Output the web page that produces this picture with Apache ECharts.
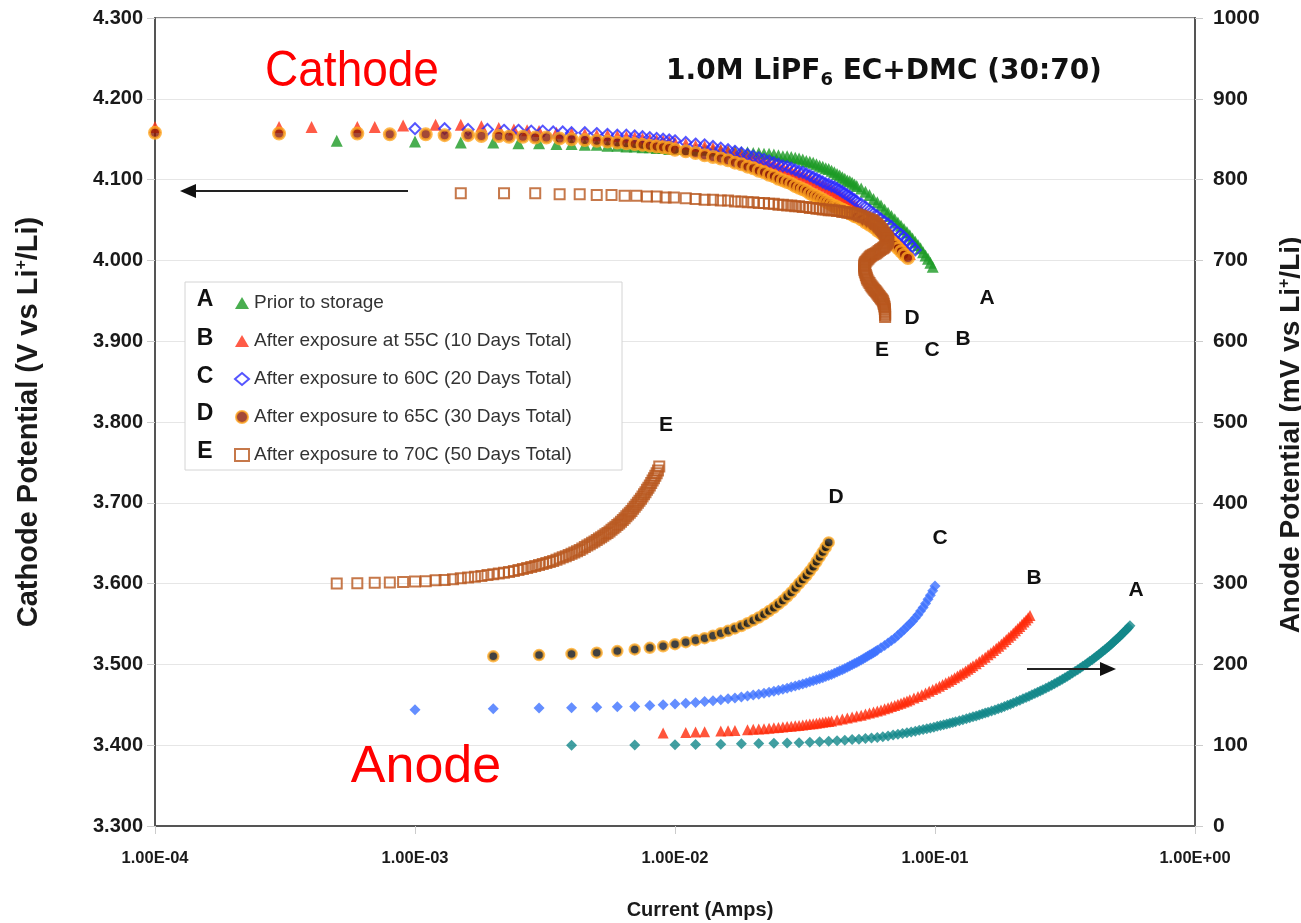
<!DOCTYPE html>
<html><head><meta charset="utf-8">
<script src="https://cdn.jsdelivr.net/npm/echarts/dist/echarts.min.js"></script>
<style>html,body{margin:0;padding:0;background:#fff}#c{width:1301px;height:923px}</style>
</head><body><div id="c"></div>
<script>
// ---- data: [current (mA), potential] ----
const seriesNames = ['Prior to storage','After exposure at 55C (10 Days Total)','After exposure to 60C (20 Days Total)','After exposure to 65C (30 Days Total)','After exposure to 70C (50 Days Total)'];
const seriesLetters = ['A','B','C','D','E'];
const xTickLabels = ['1.00E-04','1.00E-03','1.00E-02','1.00E-01','1.00E+00'];

// Cathode potential (V vs Li+/Li), left axis
const cathodeA = [[0.5,4.148],[1,4.147],[1.5,4.146],[2,4.146],[2.5,4.145],[3,4.145],[3.5,4.144],[4,4.144],[4.5,4.143],[5,4.143],[5.5,4.142],[6,4.142],[6.5,4.141],[7,4.141],[7.5,4.140],[8,4.140],[8.5,4.139],[9,4.139],[9.5,4.138],[10,4.138],[11,4.138],[12,4.137],[13,4.137],[14,4.136],[15,4.136],[16,4.135],[17,4.135],[18,4.134],[19,4.134],[20,4.133],[21,4.133],[22,4.132],[23,4.132],[24,4.131],[25,4.130],[26,4.129],[27,4.129],[28,4.128],[29,4.127],[30,4.126],[31,4.125],[32,4.123],[33,4.122],[34,4.121],[35,4.119],[36,4.117],[37,4.116],[38,4.114],[39,4.113],[40,4.111],[41,4.109],[42,4.107],[43,4.105],[44,4.103],[45,4.101],[46,4.099],[47,4.098],[48,4.096],[49,4.094],[50,4.092],[52,4.089],[54,4.085],[56,4.081],[58,4.076],[60,4.072],[62,4.068],[64,4.063],[66,4.059],[68,4.055],[70,4.051],[72,4.047],[74,4.043],[76,4.039],[78,4.035],[80,4.031],[82,4.027],[84,4.023],[86,4.019],[88,4.015],[90,4.010],[92,4.006],[94,4.002],[96,3.997],[98,3.992]];
const cathodeB = [[0.1,4.165],[0.3,4.165],[0.4,4.165],[0.6,4.165],[0.7,4.165],[0.9,4.167],[1.2,4.168],[1.5,4.168],[1.8,4.166],[2.1,4.164],[2.4,4.162],[2.7,4.161],[3,4.160],[3.5,4.158],[4,4.157],[4.5,4.156],[5,4.155],[5.5,4.155],[6,4.154],[6.5,4.153],[7,4.152],[7.5,4.151],[8,4.150],[8.5,4.149],[9,4.148],[9.5,4.147],[10,4.146],[11,4.144],[12,4.142],[13,4.141],[14,4.139],[15,4.137],[16,4.135],[17,4.133],[18,4.131],[19,4.129],[20,4.127],[21,4.125],[22,4.123],[23,4.121],[24,4.119],[25,4.117],[26,4.115],[27,4.113],[28,4.111],[29,4.109],[30,4.107],[31,4.105],[32,4.103],[33,4.101],[34,4.099],[35,4.097],[36,4.095],[37,4.093],[38,4.091],[39,4.089],[40,4.087],[41,4.085],[42,4.083],[43,4.081],[44,4.078],[45,4.076],[46,4.074],[47,4.072],[48,4.070],[49,4.068],[50,4.066],[52,4.062],[54,4.058],[56,4.054],[58,4.050],[60,4.046],[62,4.042],[64,4.038],[66,4.034],[68,4.031],[70,4.027],[72,4.023],[74,4.020],[76,4.016],[78,4.012],[80,4.008]];
const cathodeC = [[1,4.163],[1.3,4.163],[1.6,4.162],[1.9,4.162],[2.2,4.161],[2.5,4.161],[2.8,4.160],[3.1,4.160],[3.4,4.159],[3.7,4.159],[4,4.158],[4.5,4.158],[5,4.157],[5.5,4.156],[6,4.155],[6.5,4.155],[7,4.154],[7.5,4.153],[8,4.152],[8.5,4.151],[9,4.150],[9.5,4.149],[10,4.148],[11,4.146],[12,4.144],[13,4.143],[14,4.141],[15,4.139],[16,4.137],[17,4.135],[18,4.133],[19,4.131],[20,4.129],[21,4.127],[22,4.125],[23,4.123],[24,4.121],[25,4.119],[26,4.117],[27,4.116],[28,4.114],[29,4.112],[30,4.110],[31,4.109],[32,4.107],[33,4.105],[34,4.103],[35,4.101],[36,4.099],[37,4.097],[38,4.095],[39,4.094],[40,4.092],[41,4.091],[42,4.089],[43,4.087],[44,4.085],[45,4.083],[46,4.081],[47,4.079],[48,4.077],[49,4.075],[50,4.073],[52,4.070],[54,4.066],[56,4.062],[58,4.058],[60,4.055],[62,4.051],[64,4.048],[66,4.045],[68,4.042],[70,4.038],[72,4.035],[74,4.032],[76,4.029],[78,4.025],[80,4.021],[82,4.017],[84,4.013]];
const cathodeD = [[0.1,4.158],[0.3,4.157],[0.6,4.157],[0.8,4.156],[1.1,4.156],[1.3,4.155],[1.6,4.155],[1.8,4.154],[2.1,4.154],[2.3,4.153],[2.6,4.153],[2.9,4.152],[3.2,4.152],[3.6,4.151],[4,4.150],[4.5,4.149],[5,4.148],[5.5,4.147],[6,4.146],[6.5,4.145],[7,4.144],[7.5,4.143],[8,4.142],[8.5,4.141],[9,4.140],[9.5,4.139],[10,4.137],[11,4.135],[12,4.133],[13,4.130],[14,4.128],[15,4.126],[16,4.124],[17,4.121],[18,4.119],[19,4.116],[20,4.114],[21,4.111],[22,4.109],[23,4.106],[24,4.104],[25,4.101],[26,4.099],[27,4.097],[28,4.095],[29,4.092],[30,4.090],[31,4.088],[32,4.086],[33,4.083],[34,4.081],[35,4.079],[36,4.077],[37,4.075],[38,4.073],[39,4.071],[40,4.069],[41,4.067],[42,4.066],[43,4.064],[44,4.063],[45,4.061],[46,4.060],[47,4.058],[48,4.057],[49,4.055],[50,4.054],[52,4.051],[54,4.047],[56,4.044],[58,4.041],[60,4.037],[62,4.034],[64,4.030],[66,4.027],[68,4.023],[70,4.019],[72,4.015],[74,4.011],[76,4.007],[78.7,4.003]];
const cathodeE = [[1.5,4.083],[2.2,4.083],[2.9,4.083],[3.6,4.082],[4.3,4.082],[5.0,4.081],[5.7,4.081],[6.4,4.080],[7.1,4.080],[7.8,4.079],[8.5,4.079],[9.2,4.078],[9.9,4.078],[11,4.077],[12,4.076],[13,4.075],[14,4.075],[15,4.074],[16,4.074],[17,4.073],[18,4.073],[19,4.072],[20,4.072],[21,4.071],[22,4.071],[23,4.070],[24,4.070],[25,4.069],[26,4.069],[27,4.068],[28,4.068],[29,4.067],[30,4.067],[31,4.066],[32,4.066],[33,4.065],[34,4.065],[35,4.064],[36,4.064],[37,4.063],[38,4.063],[39,4.062],[40,4.062],[41,4.062],[42,4.061],[43,4.061],[44,4.060],[45,4.060],[46,4.059],[47,4.059],[48,4.058],[49,4.058],[50,4.057],[51,4.056],[52,4.055],[53,4.054],[54,4.053],[55,4.052],[56,4.051],[57,4.050],[57.5,4.049],[58,4.048],[58.5,4.047],[59,4.046],[59.5,4.045],[60,4.044],[60.5,4.043],[61,4.042],[61.5,4.0405],[62,4.039],[62.5,4.0375],[63,4.036],[63.5,4.0345],[64,4.033],[64.5,4.0315],[65,4.030],[65.5,4.0285],[66,4.027],[66.2,4.025],[66,4.023],[65.5,4.0215],[65,4.020],[64.5,4.0185],[64,4.017],[63.5,4.016],[63,4.015],[62.2,4.014],[61.5,4.013],[60.7,4.0115],[60,4.010],[59.2,4.009],[58.5,4.008],[57.7,4.007],[57,4.006],[56.5,4.005],[56,4.004],[55.5,4.0025],[55,4.001],[54.5,3.9995],[54,3.998],[53.7,3.9965],[53.5,3.995],[53.5,3.9935],[53.5,3.992],[53.5,3.990],[53.5,3.988],[53.7,3.986],[54,3.984],[54.2,3.982],[54.5,3.980],[54.7,3.978],[55,3.976],[55.5,3.974],[56,3.972],[56.5,3.970],[57,3.968],[57.5,3.9665],[58,3.965],[58.5,3.9635],[59,3.962],[59.5,3.9605],[60,3.959],[60.5,3.9575],[61,3.956],[61.5,3.9545],[62,3.953],[62.5,3.9515],[63,3.950],[63.3,3.948],[63.5,3.946],[63.8,3.944],[64,3.942],[64.1,3.940],[64.2,3.938],[64.2,3.936],[64.3,3.934],[64.3,3.932],[64.3,3.930]];

// Anode potential (mV vs Li+/Li), right axis
const anodeA = [[4,100],[7,100.3],[10,100.7],[12,101],[15,101.3],[18,101.7],[21,102],[24,102.4],[27,102.7],[30,103],[33,103.6],[36,104.2],[39,104.9],[42,105.5],[45,106.2],[48,106.9],[51,107.5],[54,108.2],[57,108.8],[60,109.5],[63,110.5],[66,111.5],[69,112.5],[72,113.5],[75,114.5],[78,115.4],[81,116.4],[84,117.4],[87,118.4],[90,119.4],[93,120.4],[96,121.4],[99,122.3],[102,123.3],[105,124.3],[108,125.2],[111,126.2],[114,127.2],[117,128.1],[120,129.1],[124,130.4],[128,131.6],[132,132.8],[136,133.9],[140,135.1],[144,136.2],[148,137.4],[152,138.5],[156,139.7],[160,140.8],[165,142.3],[170,143.7],[175,145.1],[180,146.5],[185,148],[190,149.4],[195,150.8],[200,152.3],[206,154],[212,155.7],[218,157.4],[224,159.1],[230,160.7],[236,162.3],[242,163.9],[248,165.5],[254,167.1],[260,168.7],[267,170.5],[274,172.4],[281,174.2],[288,176.1],[295,178],[302,179.8],[309,181.7],[316,183.5],[323,185.4],[330,187.2],[338,189.3],[346,191.4],[354,193.5],[362,195.6],[370,197.6],[378,199.7],[386,201.8],[394,203.8],[402,205.9],[410,207.9],[418,210],[426,212],[434,214.1],[442,216.2],[450,218.2],[458,220.3],[466,222.3],[474,224.4],[482,226.5],[490,228.6],[498,230.7],[506,232.8],[514,234.9],[522,237],[530,239.1],[538,241.2],[546,243.3],[554,245.5],[562,247.7]];
const anodeB = [[9,115],[11,115.8],[12,116.3],[13,116.7],[15,117.5],[16,117.9],[17,118.3],[19,119.2],[20,119.6],[21,120],[22,120.5],[23,121],[24,121.5],[25,122],[26,122.5],[27,123],[28,123.5],[29,124],[30,124.5],[31,125],[32,125.6],[33,126.1],[34,126.7],[35,127.2],[36,127.8],[37,128.3],[38,128.9],[39,129.4],[40,130],[42,131.2],[44,132.4],[46,133.6],[48,134.8],[50,136],[52,137.2],[54,138.5],[56,139.8],[58,141.1],[60,142.4],[62,143.7],[64,145],[66,146.4],[68,147.8],[70,149.2],[72,150.6],[74,152],[76,153.4],[78,154.8],[80,156.2],[83,158.3],[86,160.4],[89,162.5],[92,164.6],[95,166.7],[98,168.8],[101,170.9],[104,173],[107,175.1],[110,177.2],[113,179.3],[116,181.4],[119,183.5],[122,185.6],[125,187.7],[128,189.8],[131,191.9],[134,194],[137,196.1],[140,198.2],[144,200.9],[148,203.6],[152,206.3],[156,209],[160,211.8],[164,214.5],[168,217.2],[172,219.9],[176,222.6],[180,225.4],[184,228.1],[188,230.8],[192,233.5],[196,236.2],[200,238.9],[204,241.6],[208,244.3],[212,247],[216,249.7],[220,252.4],[224,255],[228,257.7],[232,260.4]];
const anodeC = [[1,144],[2,145],[3,146],[4,146.5],[5,147],[6,147.5],[7,148],[8,149],[9,150],[10,151],[11,152],[12,153],[13,154],[14,155],[15,156.2],[16,157.4],[17,158.5],[18,159.6],[19,160.8],[20,162],[21,163.2],[22,164.4],[23,165.6],[24,166.8],[25,168],[26,169.3],[27,170.6],[28,171.9],[29,173.2],[30,174.5],[31,175.8],[32,177.1],[33,178.4],[34,179.7],[35,181],[36,182.3],[37,183.6],[38,184.9],[39,186.2],[40,187.5],[41,189],[42,190.5],[43,192],[44,193.5],[45,195],[46,196.5],[47,198],[48,199.5],[49,201],[50,202.5],[51,204],[52,205.5],[53,207],[54,208.5],[55,210],[56,211.5],[57,213],[58,214.5],[59,216],[60,217.5],[62,220.5],[64,223.5],[66,226.5],[68,229.5],[70,232.5],[72,236],[74,239.5],[76,243],[78,246.5],[80,250],[82,253.5],[84,257.5],[86,261.5],[88,266],[90,270.5],[92,275.5],[94,280.5],[96,285.5],[98,291],[100,297]];
const anodeD = [[2,210],[3,211.5],[4,213],[5,214.5],[6,216.5],[7,218.5],[8,220.5],[9,222.5],[10,225],[11,227.5],[12,230],[13,232.5],[14,235.5],[15,238.5],[16,241.5],[17,244.5],[18,247.5],[19,251],[20,254.5],[21,258],[22,262],[23,266],[24,270],[25,274.5],[26,279],[27,284],[28,289],[29,294.5],[30,300],[31,305],[32,310],[33,315.5],[34,321],[35,327],[36,333],[37,339],[38,345],[39,351]];
const anodeE = [[0.5,300],[0.6,300.5],[0.7,301],[0.8,301.5],[0.9,302],[1.0,302.5],[1.1,303],[1.2,304],[1.3,304.5],[1.4,305.5],[1.5,306.5],[1.6,307.5],[1.7,308.5],[1.8,309.5],[1.9,310.5],[2.0,311.5],[2.1,312.5],[2.2,313.5],[2.3,314.5],[2.4,315.5],[2.5,316.7],[2.6,318],[2.7,319.2],[2.8,320.5],[2.9,321.7],[3.0,323],[3.1,324.2],[3.2,325.5],[3.3,326.7],[3.4,328],[3.5,329.5],[3.6,331],[3.7,332.5],[3.8,334],[3.9,335.5],[4.0,337],[4.1,338.5],[4.2,340],[4.3,341.7],[4.4,343.5],[4.5,345.2],[4.6,347],[4.7,348.7],[4.8,350.5],[4.9,352.2],[5.0,354],[5.1,355.7],[5.2,357.5],[5.3,359.2],[5.4,361],[5.5,362.7],[5.6,364.5],[5.7,366.5],[5.8,368.5],[5.9,370.5],[6.0,372.5],[6.1,374.5],[6.2,376.5],[6.3,378.7],[6.4,381],[6.5,383.2],[6.6,385.5],[6.7,387.7],[6.8,390],[6.9,392.5],[7.0,395],[7.1,397.5],[7.2,400],[7.3,402.5],[7.4,405],[7.5,407.7],[7.6,410.5],[7.7,413.2],[7.8,416],[7.9,418.7],[8.0,421.5],[8.1,424.5],[8.2,427.5],[8.3,430.5],[8.4,433.5],[8.5,436.7],[8.6,440],[8.7,445]];

const toAmps = arr => arr.map(p => [p[0] / 1000, p[1]]);

const chart = echarts.init(document.getElementById('c'), null, {renderer: 'canvas'});
const SANS = 'Liberation Sans, Arial, sans-serif';

function sc(name, data, yIdx, symbol, size, itemStyle, z) {
  return {type: 'scatter', name, data: toAmps(data), yAxisIndex: yIdx, symbol, symbolSize: size,
    itemStyle, clip: false, z: z || 2, silent: true, animation: false};
}

const letterStyle = (t, x, y, fs) => ({type: 'text', x, y, z: 10,
  style: {text: t, fontSize: fs, fontWeight: 'bold', fontFamily: SANS, fill: '#111', align: 'center', verticalAlign: 'middle'}});

const nameStyle = (fs, pad) => ({fontFamily: SANS, fontWeight: 'bold', fontSize: fs, color: '#1a1a1a', padding: pad,
  rich: {sup: {fontFamily: SANS, fontWeight: 'bold', fontSize: 16, verticalAlign: 'top', color: '#1a1a1a'}}});

const option = {
  backgroundColor: '#fff',
  animation: false,
  grid: {left: 155, right: 106, top: 18, bottom: 97, show: true, borderColor: '#666', borderWidth: 1.5,
    containLabel: false, outerBoundsMode: 'none'},
  xAxis: {
    type: 'log', logBase: 10, min: 1e-4, max: 1,
    axisLine: {show: true, lineStyle: {color: '#555', width: 2}},
    axisTick: {show: true, length: 8, lineStyle: {color: '#ccc'}},
    minorTick: {show: false}, splitLine: {show: false},
    axisLabel: {margin: 24, fontFamily: SANS, fontWeight: 'bold', fontSize: 16.5, color: '#1a1a1a',
      formatter: v => xTickLabels[Math.round(Math.log10(v)) + 4]},
    name: 'Current (Amps)', nameLocation: 'middle', nameGap: 74,
    nameTextStyle: {fontFamily: SANS, fontWeight: 'bold', fontSize: 20, color: '#1a1a1a', padding: [0, 0, 0, 50]}
  },
  yAxis: [{
    type: 'value', min: 3.3, max: 4.3, interval: 0.1, position: 'left',
    axisLine: {show: true, lineStyle: {color: '#555', width: 2}},
    axisTick: {show: true, length: 8, lineStyle: {color: '#ccc'}},
    axisLabel: {margin: 12, fontFamily: SANS, fontWeight: 'bold', fontSize: 20, color: '#1a1a1a', formatter: v => v.toFixed(3)},
    splitLine: {show: true, lineStyle: {color: '#e6e6e6', width: 1}},
    name: 'Cathode Potential (V vs Li{sup|+}/Li)', nameLocation: 'middle', nameRotate: 90, nameGap: 112,
    nameTextStyle: nameStyle(29, [0, 0, 0, 0])
  }, {
    type: 'value', min: 0, max: 1000, interval: 100, position: 'right',
    axisLine: {show: true, lineStyle: {color: '#555', width: 2}},
    axisTick: {show: true, length: 8, lineStyle: {color: '#ccc'}},
    axisLabel: {margin: 18, fontFamily: SANS, fontWeight: 'bold', fontSize: 21, color: '#1a1a1a', formatter: v => String(v)},
    splitLine: {show: false},
    name: 'Anode Potential (mV vs Li{sup|+}/Li)', nameLocation: 'middle', nameRotate: 90, nameGap: 82,
    nameTextStyle: nameStyle(28, [0, 26, 0, 0])
  }],
  legend: {
    data: seriesNames, orient: 'vertical', left: 229, top: 288, itemWidth: 14, itemHeight: 12, itemGap: 18,
    selectedMode: false, z: 6,
    textStyle: {fontFamily: SANS, fontSize: 19, color: '#333', lineHeight: 20}
  },
  series: [
    sc(seriesNames[0], cathodeA, 0, 'triangle', 12, {color: '#1b9a24'}, 2),
    sc(seriesNames[1], cathodeB, 0, 'triangle', 12, {color: '#ff3219'}, 3),
    sc(seriesNames[2], cathodeC, 0, 'diamond', 11, {color: 'rgba(255,255,255,0)', borderColor: '#2b2bff', borderWidth: 2}, 4),
    sc(seriesNames[3], cathodeD, 0, 'circle', 11, {color: '#8c1a05', borderColor: '#ffa620', borderWidth: 3}, 5),
    sc(seriesNames[4], cathodeE, 0, 'rect', 10, {color: 'rgba(255,255,255,0)', borderColor: '#b8561d', borderWidth: 2}, 6),
    sc('Anode A', anodeA, 1, 'diamond', 11, {color: '#12878a'}, 2),
    sc('Anode B', anodeB, 1, 'triangle', 11, {color: '#ff2a0a'}, 2),
    sc('Anode C', anodeC, 1, 'diamond', 11, {color: '#3d72ff'}, 2),
    sc('Anode D', anodeD, 1, 'circle', 10, {color: '#111', borderColor: '#ffac2a', borderWidth: 2.5}, 2),
    sc('Anode E', anodeE, 1, 'rect', 10, {color: 'rgba(255,255,255,0)', borderColor: '#b8561d', borderWidth: 2}, 2)
  ],
  graphic: [
    {type: 'rect', z: 3, shape: {x: 185, y: 282, width: 437, height: 188}, style: {fill: '#fff', stroke: '#d4d4d4', lineWidth: 1}},
    letterStyle(seriesLetters[0], 205, 300, 23), letterStyle(seriesLetters[1], 205, 339, 23),
    letterStyle(seriesLetters[2], 205, 377, 23), letterStyle(seriesLetters[3], 205, 414, 23),
    letterStyle(seriesLetters[4], 205, 452, 23),
    // cathode curve labels
    letterStyle('A', 987, 298, 21), letterStyle('D', 912, 318, 21), letterStyle('B', 963, 339, 21),
    letterStyle('C', 932, 350, 21), letterStyle('E', 882, 350, 21),
    // anode curve labels
    letterStyle('E', 666, 425, 21), letterStyle('D', 836, 497, 21), letterStyle('C', 940, 538, 21),
    letterStyle('B', 1034, 578, 21), letterStyle('A', 1136, 590, 21),
    {type: 'text', x: 352, y: 72, z: 10, scaleX: 0.92,
      style: {text: 'Cathode', fontSize: 50, fontFamily: SANS, fill: '#ff0000', align: 'center', verticalAlign: 'middle'}},
    {type: 'text', x: 426, y: 768, z: 10,
      style: {text: 'Anode', fontSize: 52, fontFamily: SANS, fill: '#ff0000', align: 'center', verticalAlign: 'middle'}},
    {type: 'text', x: 884, y: 72, z: 10,
      style: {text: '{a|1.0M LiPF}{s|6}{a| EC+DMC (30:70)}', align: 'center', verticalAlign: 'middle',
        rich: {a: {fontSize: 28, fontWeight: 'bold', fontFamily: 'DejaVu Sans', fill: '#111', lineHeight: 34, verticalAlign: 'middle'},
               s: {fontSize: 18, fontWeight: 'bold', fontFamily: 'DejaVu Sans', fill: '#111', lineHeight: 34, verticalAlign: 'bottom', padding: [12, 0, 0, 0]}}}},
    // arrows
    {type: 'line', z: 10, shape: {x1: 408, y1: 191, x2: 194, y2: 191}, style: {stroke: '#222', lineWidth: 2}},
    {type: 'polygon', z: 10, shape: {points: [[180, 191], [196, 184], [196, 198]]}, style: {fill: '#111'}},
    {type: 'line', z: 10, shape: {x1: 1027, y1: 669, x2: 1102, y2: 669}, style: {stroke: '#222', lineWidth: 2}},
    {type: 'polygon', z: 10, shape: {points: [[1116, 669], [1100, 662], [1100, 676]]}, style: {fill: '#111'}}
  ]
};
chart.setOption(option);
</script></body></html>
